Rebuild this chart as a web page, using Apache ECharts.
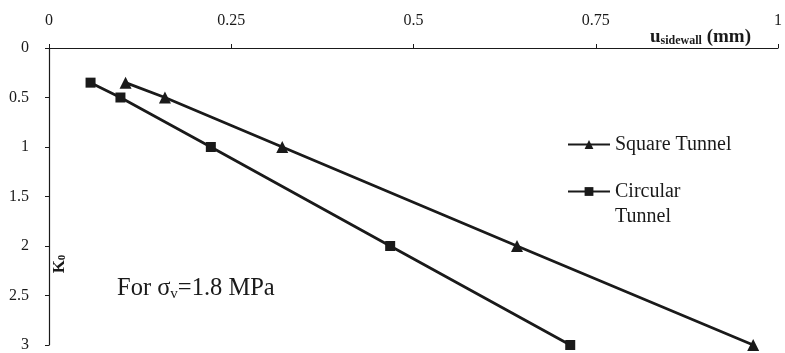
<!DOCTYPE html>
<html><head><meta charset="utf-8">
<script src="https://cdn.jsdelivr.net/npm/echarts@6/dist/echarts.min.js"></script>
<style>html,body{margin:0;padding:0;background:#fff}#c{width:785px;height:353px}</style>
</head><body><div id="c"></div>
<script>
const kValues = [0.35, 0.5, 1, 2, 3];
const squareU = [0.105, 0.159, 0.32, 0.642, 0.966];
const circularU = [0.057, 0.098, 0.222, 0.468, 0.715];
const xTicks = [0, 0.25, 0.5, 0.75, 1];
const yTicks = [0, 0.5, 1, 1.5, 2, 2.5, 3];
const seriesNames = ['Square Tunnel', 'Circular\nTunnel'];

const font = '"Liberation Serif", "Times New Roman", serif';
const ink = '#1a1a1a';
const chart = echarts.init(document.getElementById('c'));
const pairs = (xs) => xs.map((x, i) => [x, kValues[i]]);
chart.setOption({
  animation: false,
  textStyle: { fontFamily: font, color: ink },
  grid: { left: 49, right: 5, top: 48, bottom: 5, containLabel: false },
  legend: {
    orient: 'vertical', left: 562, top: 127, itemWidth: 42, itemHeight: 11, itemGap: -3,
    data: seriesNames,
    formatter: name => (name.indexOf('\n') >= 0 ? ' \n' + name : name),
    textStyle: { fontFamily: font, fontSize: 20, color: ink, lineHeight: 25 }
  },
  xAxis: {
    type: 'value', position: 'top', min: 0, max: 1, interval: 0.25,
    axisLine: { lineStyle: { color: ink, width: 1.2 } },
    axisTick: { show: true, length: 4, lineStyle: { color: ink } },
    splitLine: { show: false },
    axisLabel: { fontFamily: font, fontSize: 16, color: ink, margin: 19,
      formatter: v => xTicks.includes(v) ? String(v) : '' },
    name: '{u|u}{s|sidewall}{u| (mm)}', nameLocation: 'end', nameGap: -27,
    nameTextStyle: { align: 'right', verticalAlign: 'bottom', padding: [0, 0, 1, 0],
      rich: { u: { fontFamily: font, fontSize: 19, fontWeight: 'bold', color: ink },
              s: { fontFamily: font, fontSize: 12, fontWeight: 'bold', color: ink, verticalAlign: 'bottom', padding: [7, 0, 0, 0] } } }
  },
  yAxis: {
    type: 'value', inverse: true, min: 0, max: 3, interval: 0.5,
    axisLine: { show: true, lineStyle: { color: ink, width: 1.2 } },
    axisTick: { show: true, length: 4, lineStyle: { color: ink } },
    splitLine: { show: false },
    axisLabel: { fontFamily: font, fontSize: 16, color: ink, margin: 20,
      formatter: v => yTicks.includes(v) ? String(v) : '' }
  },
  graphic: [
    { type: 'text', x: 51, y: 264, rotation: Math.PI / 2,
      style: { text: '{k|K}{z|0}', fontFamily: font, fill: ink, align: 'center', verticalAlign: 'top',
        rich: { k: { fontFamily: font, fontSize: 17, fontWeight: 'bold', fill: ink },
                z: { fontFamily: font, fontSize: 11, fontWeight: 'bold', fill: ink, padding: [6, 0, 0, 0] } } } },
    { type: 'text', left: 117, top: 276,
      style: { text: '{a|For σ}{b|v}{a|=1.8 MPa}', fill: ink,
        rich: { a: { fontFamily: font, fontSize: 24.5, fill: ink },
                b: { fontFamily: font, fontSize: 15, fill: ink, padding: [11, 0, 0, 0] } } } }
  ],
  series: [
    { name: seriesNames[0], type: 'line', data: pairs(squareU), symbol: 'triangle', symbolSize: 12,
      lineStyle: { color: ink, width: 2.8 }, itemStyle: { color: ink } },
    { name: seriesNames[1], type: 'line', data: pairs(circularU), symbol: 'rect', symbolSize: 10,
      lineStyle: { color: ink, width: 2.8 }, itemStyle: { color: ink } }
  ]
});
</script></body></html>
